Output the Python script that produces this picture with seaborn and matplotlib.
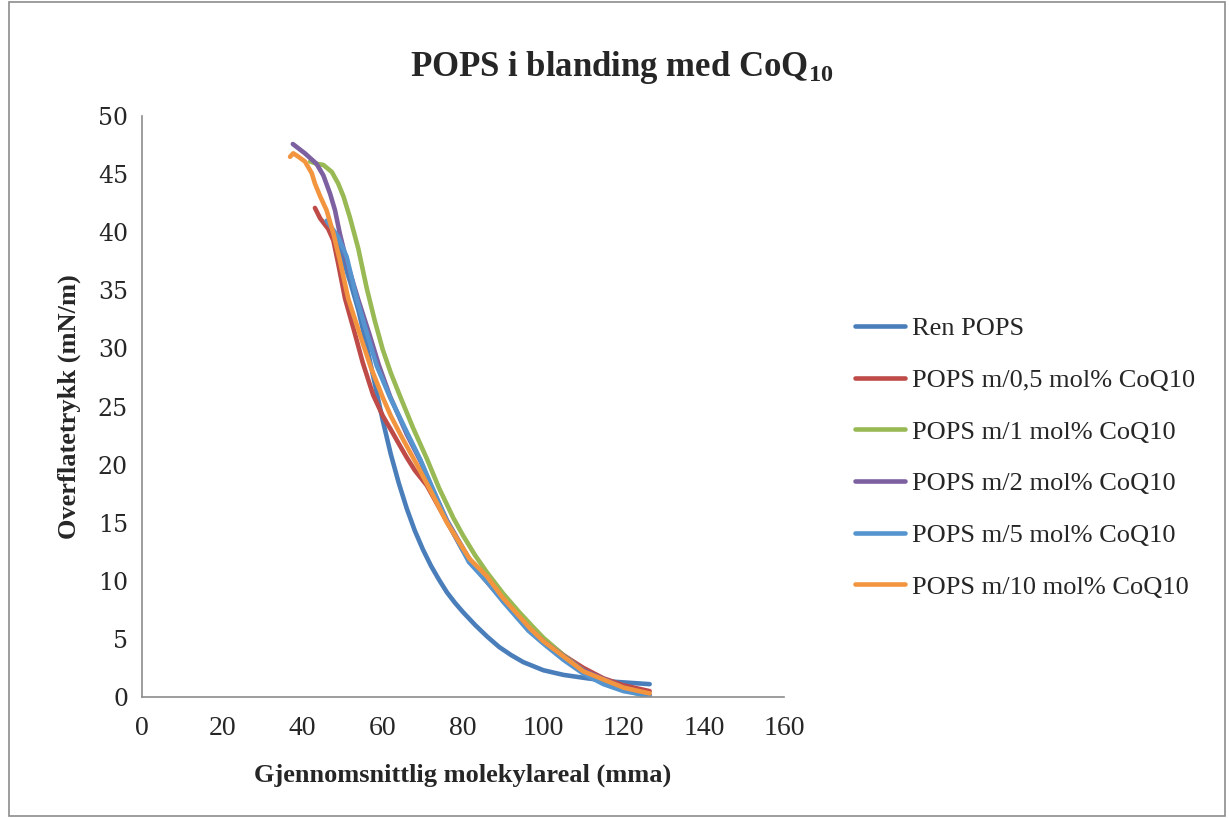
import numpy as np
import pandas as pd
import seaborn as sns
import matplotlib.pyplot as plt
from matplotlib.patches import Rectangle

# data (x = mma, y = mN/m)
ren_x = [46.5, 48.0, 50.0, 52.0, 54.0, 56.0, 58.0, 60.0, 62.0, 64.0, 66.0, 68.0, 70.0, 72.0, 74.0,
         76.0, 78.0, 80.0, 83.0, 86.0, 89.0, 92.0, 95.0, 100.0, 105.0, 111.0, 118.0, 126.5]
ren_y = [40.8, 39.6, 37.8, 35.6, 33.2, 30.2, 27.0, 23.8, 20.9, 18.4, 16.2, 14.3, 12.7, 11.3, 10.1,
         9.0, 8.1, 7.3, 6.2, 5.2, 4.3, 3.6, 3.0, 2.3, 1.9, 1.6, 1.3, 1.1]

red_x = [43.1, 44.4, 46.4, 47.7, 48.9, 50.6, 52.8, 55.0, 57.6, 60.0, 62.2, 64.0, 66.0, 68.0, 71.0, 75.0,
         80.0, 85.0, 90.0, 96.5, 100.0, 105.0, 110.0, 115.0, 120.0, 126.5]
red_y = [42.1, 41.2, 40.3, 39.3, 37.3, 34.3, 31.6, 28.8, 26.0, 24.2, 22.9, 21.8, 20.6, 19.5, 18.2, 15.7,
         12.6, 10.3, 8.3, 6.0, 5.0, 3.6, 2.5, 1.6, 1.0, 0.5]

green_x = [41.9, 43.5, 45.2, 47.3, 48.9, 50.2, 51.8, 53.9, 56.0, 58.0, 60.0, 62.0, 64.3, 67.5, 71.0,
           74.0, 77.6, 80.0, 83.0, 86.0, 90.0, 94.0, 97.5, 100.0, 105.0, 110.0, 115.0, 120.0, 126.0]
green_y = [46.1, 45.9, 45.8, 45.2, 44.2, 43.1, 41.3, 38.6, 35.2, 32.4, 29.9, 27.9, 25.9, 23.2, 20.5,
           18.0, 15.4, 13.9, 12.2, 10.7, 8.9, 7.3, 6.0, 5.1, 3.6, 2.3, 1.3, 0.6, 0.05]

purple_x = [37.6, 40.6, 43.5, 45.2, 46.9, 48.1, 49.3, 51.0, 53.9, 56.7, 59.0, 61.8, 66.0, 69.4, 72.0,
            76.0, 82.0, 86.0, 90.0, 96.5, 100.0, 110.0, 120.0, 126.5]
purple_y = [47.6, 46.8, 45.9, 44.9, 43.3, 41.9, 39.9, 37.5, 34.2, 31.2, 28.6, 25.9, 22.6, 20.3, 18.2,
            15.2, 11.6, 10.0, 8.3, 5.9, 4.8, 2.3, 0.8, 0.2]

lblue_x = [46.0, 48.9, 51.0, 53.5, 55.8, 58.5, 61.8, 66.0, 69.4, 72.0, 75.9, 81.5, 86.0, 90.0, 96.3,
           100.0, 105.0, 110.0, 115.0, 120.0, 126.5]
lblue_y = [41.0, 39.6, 37.9, 34.3, 31.6, 28.5, 25.8, 22.8, 20.4, 18.3, 15.2, 11.6, 9.9, 8.2, 5.7,
           4.6, 3.2, 2.0, 1.1, 0.5, 0.1]

orange_x = [36.9, 37.7, 38.6, 40.6, 42.3, 43.1, 44.4, 46.0, 47.7, 49.3, 51.4, 54.3, 57.0, 60.1, 62.0,
            64.7, 68.5, 72.0, 76.0, 81.6, 85.9, 90.0, 96.7, 100.0, 110.0, 120.0, 126.5]
orange_y = [46.5, 46.8, 46.6, 46.1, 45.1, 44.2, 43.1, 41.9, 39.9, 37.6, 34.3, 31.2, 28.4, 25.7, 24.2,
            22.4, 20.0, 17.7, 15.0, 11.9, 10.4, 8.5, 5.9, 4.8, 2.2, 0.8, 0.3]

labels = ["Ren POPS", "POPS m/0,5 mol% CoQ10", "POPS m/1 mol% CoQ10",
          "POPS m/2 mol% CoQ10", "POPS m/5 mol% CoQ10", "POPS m/10 mol% CoQ10"]
colors = ["#4A7EBB", "#BE4B48", "#98B954", "#7D60A0", "#5594CF", "#F3953F"]

series = [(ren_x, ren_y), (red_x, red_y), (green_x, green_y),
          (purple_x, purple_y), (lblue_x, lblue_y), (orange_x, orange_y)]

sns.set_style("white")
plt.rcParams['font.family'] = ['Liberation Serif', 'DejaVu Serif']
plt.rcParams['mathtext.default'] = 'regular'

fig = plt.figure(figsize=(12.29, 8.18), dpi=100)
ax = fig.add_axes([0.1155, 0.148, 0.638 - 0.1155, 0.858 - 0.148])

for (xs, ys), lab, col in zip(series, labels, colors):
    df = pd.DataFrame({"x": xs, "y": ys})
    sns.lineplot(data=df, x="x", y="y", ax=ax, color=col, linewidth=3.3,
                 label=lab, sort=False, estimator=None)

ax.set_xlim(0, 160)
ax.set_ylim(0, 50)
ax.set_xticks(np.arange(0, 161, 20))
ax.set_yticks(np.arange(0, 51, 5))
ax.tick_params(axis='both', direction='out', length=6, width=1.2, color='#8c8c8c')
ax.tick_params(axis='x', labelsize=20, pad=8)
ax.tick_params(axis='y', pad=4)
for t in ax.get_yticklabels():
    t.set_family('DejaVu Serif')
    t.set_fontsize(17)
for s in ['top', 'right']:
    ax.spines[s].set_visible(False)
for s in ['left', 'bottom']:
    ax.spines[s].set_color('#8c8c8c')
    ax.spines[s].set_linewidth(1.2)

ax.set_xlabel("Gjennomsnittlig molekylareal (mma)", fontsize=19, fontweight='bold', labelpad=16)
ax.set_ylabel("Overflatetrykk (mN/m)", fontsize=19, fontweight='bold', labelpad=12)

fig.text(0.506, 0.918, r"POPS i blanding med CoQ$_{10}$", ha='center', va='center',
         fontsize=25, fontweight='bold')

leg = ax.legend(loc='center left', bbox_to_anchor=(1.073, 0.412), frameon=False,
                fontsize=19, handlelength=1.9, handletextpad=0.27, labelspacing=1.07)

# chart border
fig.patches.append(Rectangle((0.007, 0.002), 0.99, 0.996, transform=fig.transFigure,
                             fill=False, edgecolor='#8c8c8c', linewidth=1.2))

fig.savefig("out.png", dpi=100)
